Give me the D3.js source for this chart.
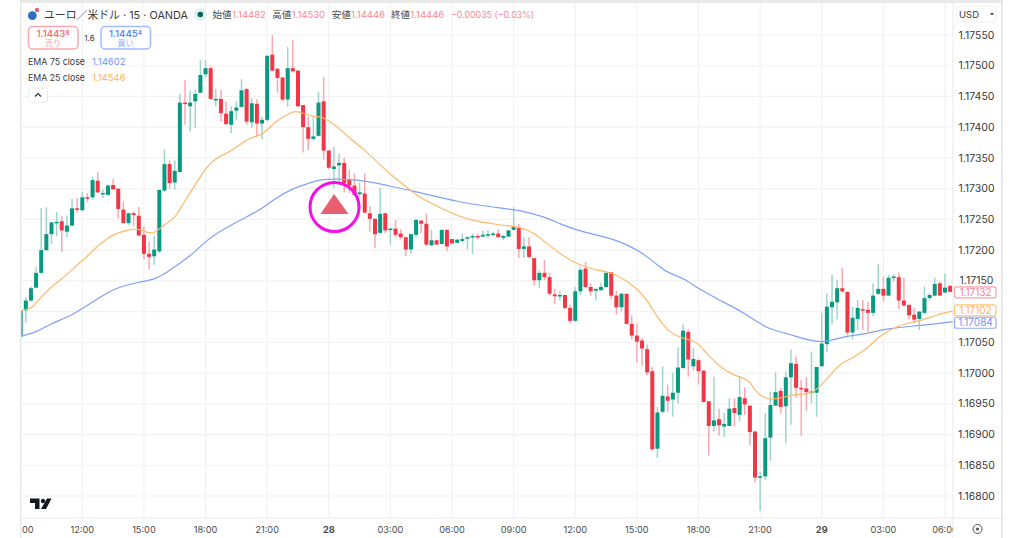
<!DOCTYPE html>
<html>
<head>
<meta charset="utf-8">
<script src="https://cdnjs.cloudflare.com/ajax/libs/d3/7.8.5/d3.min.js"></script>
<style>
  html, body { margin: 0; background: #fff; }
  svg { display: block; font-family: Inter, "Noto Sans CJK JP", sans-serif; }
</style>
</head>
<body>
<svg width="1024" height="538"></svg>
<script>
// 15 minute EUR/USD bars, first bar is 09:00
const opens = [
  1.17059,1.17102,1.17118,1.17139,1.17163,1.17200,1.17226,1.17245,1.17247,1.17230,1.17240,1.17268,1.17265,1.17286,1.17286,1.17313,1.17292,1.17290,1.17306,1.17300,
  1.17266,1.17244,1.17260,1.17256,1.17225,1.17194,1.17190,1.17198,1.17297,1.17340,1.17310,1.17327,1.17440,1.17434,1.17442,1.17456,1.17486,1.17496,1.17446,1.17446,
  1.17422,1.17404,1.17427,1.17433,1.17462,1.17408,1.17438,1.17406,1.17412,1.17518,1.17495,1.17481,1.17445,1.17496,1.17492,1.17436,1.17400,1.17381,1.17386,1.17442,
  1.17362,1.17332,1.17338,1.17342,1.17314,1.17305,1.17291,1.17292,1.17260,1.17251,1.17228,1.17260,1.17235,1.17235,1.17227,1.17221,1.17201,1.17225,1.17248,1.17243,
  1.17208,1.17216,1.17210,1.17233,1.17218,1.17212,1.17215,1.17220,1.17221,1.17223,1.17222,1.17224,1.17225,1.17227,1.17220,1.17222,1.17233,1.17236,1.17202,1.17206,
  1.17187,1.17151,1.17163,1.17156,1.17128,1.17126,1.17127,1.17106,1.17085,1.17133,1.17170,1.17140,1.17134,1.17135,1.17140,1.17164,1.17126,1.17107,1.17129,1.17080,
  1.17061,1.17053,1.17039,1.17003,1.16877,1.16937,1.16962,1.16957,1.16968,1.17008,1.17067,1.17011,1.17021,1.17004,1.16954,1.16914,1.16925,1.16913,1.16914,1.16943,
  1.16932,1.16959,1.16947,1.16905,1.16830,1.16832,1.16895,1.16947,1.16971,1.16946,1.16993,1.17015,1.16976,1.16975,1.16969,1.16968,1.17011,1.17047,1.17107,1.17115,
  1.17138,1.17132,1.17066,1.17088,1.17104,1.17103,1.17098,1.17129,1.17137,1.17126,1.17155,1.17156,1.17118,1.17111,1.17095,1.17088,1.17098,1.17122,1.17126,1.17146,
  1.17131,1.17142
];
const highs = [
  1.17101,1.17123,1.17141,1.17172,1.17268,1.17270,1.17246,1.17262,1.17256,1.17256,1.17283,1.17285,1.17295,1.17293,1.17319,1.17327,1.17299,1.17307,1.17316,1.17300,
  1.17279,1.17261,1.17263,1.17270,1.17239,1.17214,1.17223,1.17298,1.17364,1.17346,1.17346,1.17454,1.17477,1.17460,1.17461,1.17509,1.17509,1.17499,1.17462,1.17461,
  1.17442,1.17434,1.17442,1.17478,1.17464,1.17447,1.17445,1.17417,1.17518,1.17550,1.17496,1.17481,1.17530,1.17542,1.17493,1.17436,1.17417,1.17417,1.17457,1.17482,
  1.17363,1.17368,1.17357,1.17350,1.17331,1.17325,1.17310,1.17325,1.17272,1.17251,1.17301,1.17260,1.17236,1.17249,1.17234,1.17221,1.17226,1.17252,1.17249,1.17260,
  1.17233,1.17217,1.17233,1.17233,1.17218,1.17218,1.17227,1.17222,1.17227,1.17227,1.17232,1.17233,1.17230,1.17233,1.17225,1.17233,1.17270,1.17243,1.17221,1.17221,
  1.17187,1.17167,1.17184,1.17163,1.17137,1.17133,1.17127,1.17111,1.17140,1.17173,1.17181,1.17146,1.17137,1.17146,1.17164,1.17164,1.17134,1.17130,1.17129,1.17094,
  1.17081,1.17057,1.17046,1.17010,1.16945,1.17011,1.16981,1.17000,1.17042,1.17079,1.17071,1.17041,1.17023,1.17004,1.16954,1.16994,1.16942,1.16935,1.16959,1.16959,
  1.16995,1.16977,1.16947,1.16905,1.16840,1.16935,1.16970,1.17001,1.16976,1.17002,1.17038,1.17027,1.16989,1.16994,1.17035,1.17010,1.17098,1.17130,1.17160,1.17152,
  1.17171,1.17133,1.17108,1.17119,1.17119,1.17116,1.17146,1.17178,1.17157,1.17160,1.17161,1.17164,1.17155,1.17111,1.17106,1.17100,1.17141,1.17130,1.17155,1.17149,
  1.17162,1.17142
];
const lows = [
  1.17057,1.17082,1.17116,1.17138,1.17162,1.17199,1.17210,1.17223,1.17197,1.17221,1.17238,1.17261,1.17263,1.17278,1.17282,1.17293,1.17285,1.17289,1.17298,1.17252,
  1.17244,1.17241,1.17239,1.17222,1.17185,1.17169,1.17176,1.17195,1.17294,1.17299,1.17298,1.17327,1.17404,1.17393,1.17399,1.17455,1.17480,1.17445,1.17434,1.17409,
  1.17404,1.17390,1.17412,1.17432,1.17404,1.17399,1.17385,1.17380,1.17409,1.17491,1.17456,1.17442,1.17433,1.17489,1.17433,1.17359,1.17363,1.17378,1.17385,1.17347,
  1.17332,1.17301,1.17312,1.17294,1.17293,1.17288,1.17287,1.17260,1.17230,1.17203,1.17227,1.17228,1.17209,1.17221,1.17218,1.17190,1.17194,1.17221,1.17228,1.17207,
  1.17206,1.17209,1.17209,1.17198,1.17210,1.17211,1.17212,1.17201,1.17194,1.17217,1.17221,1.17220,1.17223,1.17220,1.17216,1.17221,1.17232,1.17187,1.17187,1.17187,
  1.17142,1.17138,1.17151,1.17126,1.17112,1.17118,1.17104,1.17081,1.17083,1.17127,1.17138,1.17126,1.17118,1.17134,1.17139,1.17120,1.17095,1.17100,1.17079,1.17054,
  1.17017,1.17012,1.16996,1.16874,1.16862,1.16934,1.16937,1.16929,1.16950,1.17008,1.16994,1.17004,1.16981,1.16952,1.16866,1.16905,1.16898,1.16896,1.16914,1.16913,
  1.16921,1.16932,1.16882,1.16822,1.16776,1.16826,1.16857,1.16946,1.16935,1.16886,1.16916,1.16960,1.16898,1.16939,1.16951,1.16929,1.17011,1.17034,1.17079,1.17087,
  1.17131,1.17061,1.17055,1.17070,1.17070,1.17067,1.17093,1.17127,1.17116,1.17125,1.17149,1.17104,1.17108,1.17087,1.17081,1.17070,1.17096,1.17118,1.17125,1.17126,
  1.17130,1.17132
];
const closes = [
  1.17101,1.17118,1.17138,1.17163,1.17200,1.17226,1.17245,1.17246,1.17232,1.17240,1.17268,1.17267,1.17286,1.17285,1.17314,1.17294,1.17293,1.17305,1.17299,1.17267,
  1.17244,1.17260,1.17257,1.17224,1.17194,1.17189,1.17201,1.17298,1.17340,1.17309,1.17329,1.17440,1.17439,1.17440,1.17454,1.17485,1.17496,1.17446,1.17446,1.17423,
  1.17405,1.17426,1.17432,1.17460,1.17409,1.17439,1.17406,1.17412,1.17516,1.17492,1.17480,1.17445,1.17496,1.17491,1.17434,1.17400,1.17381,1.17385,1.17440,1.17362,
  1.17334,1.17336,1.17342,1.17309,1.17305,1.17290,1.17294,1.17261,1.17251,1.17226,1.17259,1.17232,1.17235,1.17225,1.17221,1.17201,1.17226,1.17249,1.17243,1.17209,
  1.17216,1.17209,1.17233,1.17206,1.17211,1.17217,1.17218,1.17221,1.17223,1.17222,1.17225,1.17226,1.17227,1.17221,1.17223,1.17232,1.17238,1.17202,1.17206,1.17189,
  1.17151,1.17163,1.17156,1.17129,1.17125,1.17127,1.17106,1.17085,1.17133,1.17168,1.17140,1.17133,1.17137,1.17140,1.17163,1.17126,1.17107,1.17129,1.17080,1.17061,
  1.17051,1.17040,1.17001,1.16876,1.16936,1.16963,1.16955,1.16968,1.17009,1.17069,1.17022,1.17023,1.17003,1.16953,1.16914,1.16923,1.16915,1.16917,1.16942,1.16935,
  1.16961,1.16949,1.16904,1.16830,1.16832,1.16894,1.16948,1.16969,1.16945,1.16993,1.17016,1.16976,1.16975,1.16969,1.16970,1.17010,1.17048,1.17108,1.17116,1.17138,
  1.17133,1.17066,1.17090,1.17106,1.17103,1.17098,1.17126,1.17137,1.17126,1.17155,1.17157,1.17118,1.17110,1.17094,1.17087,1.17100,1.17122,1.17127,1.17145,1.17126,
  1.17139,1.17132
];

// EMA values read at these bars
const ema25Bars = [0,2,3,5,7,9,11,13,15,17,19,21,23,24,26,27,30,31,33,36,38,41,43,45,47,49,50,53,54,56,58,59,62,64,67,69,72,76,78,82,85,88,92,95,97,100,102,105,108,109,112,115,117,120,122,124,126,128,131,132,134,137,139,142,143,145,147,150,152,154,156,158,160,162,165,167,171,175,178,182];
const ema25 = [1.17102,1.17104,1.17114,1.17133,1.17147,1.17160,1.17176,1.17190,1.17207,1.17220,1.17229,1.17233,1.17235,1.17230,1.17226,1.17236,1.17251,1.17267,1.17293,1.17334,1.17350,1.17361,1.17374,1.17384,1.17387,1.17404,1.17411,1.17426,1.17426,1.17419,1.17417,1.17416,1.17399,1.17382,1.17363,1.17347,1.17323,1.17297,1.17284,1.17268,1.17256,1.17248,1.17243,1.17239,1.17238,1.17228,1.17214,1.17194,1.17179,1.17176,1.17167,1.17164,1.17155,1.17138,1.17119,1.17090,1.17069,1.17058,1.17053,1.17048,1.17027,1.17005,1.16996,1.16989,1.16970,1.16958,1.16957,1.16964,1.16966,1.16966,1.16981,1.17000,1.17018,1.17024,1.17041,1.17059,1.17079,1.17084,1.17094,1.17102];
const ema75Bars = [0,3,6,10,13,16,19,23,26,28,30,33,36,38,43,47,49,53,56,58,62,64,67,72,76,80,85,90,96,99,102,105,108,112,115,118,121,124,126,129,132,136,141,145,149,152,155,157,160,165,169,175,182];
const ema75 = [1.17060,1.17066,1.17081,1.17094,1.17110,1.17127,1.17140,1.17148,1.17152,1.17161,1.17173,1.17190,1.17214,1.17227,1.17250,1.17267,1.17281,1.17301,1.17308,1.17315,1.17316,1.17315,1.17313,1.17304,1.17297,1.17289,1.17279,1.17272,1.17266,1.17261,1.17254,1.17243,1.17233,1.17225,1.17219,1.17209,1.17196,1.17176,1.17163,1.17155,1.17137,1.17119,1.17098,1.17073,1.17065,1.17057,1.17051,1.17051,1.17059,1.17064,1.17073,1.17077,1.17084];

const priceTicks = [1.1755,1.175,1.1745,1.174,1.1735,1.173,1.1725,1.172,1.1715,1.171,1.1705,1.17,1.1695,1.169,1.1685,1.168];
// 1.17100 sits under the orange tag, so it gets a grid line but no text
const priceLabels = priceTicks.filter(d => d !== 1.171);
const timeTickBars = [0,12,24,36,48,60,72,84,96,108,120,132,144,156,168,180];
const timeTickLabels = ["09:00","12:00","15:00","18:00","21:00","28","03:00","06:00","09:00","12:00","15:00","18:00","21:00","29","03:00","06:00"];
const lastLabels = [
  {text:"1.17132", value:1.17132, nudge:0.5, stroke:"#f7a3aa", color:"#f7838d"},
  {text:"1.17102", value:1.17102, nudge:0, stroke:"#ffc67a", color:"#ffb454"},
  {text:"1.17084", value:1.17084, nudge:1.3, stroke:"#92aefb", color:"#6f94f7"}
];
const headerItems = [
  ["始値",212.5,"1.14482",232.3],["高値",272.3,"1.14530",291.7],["安値",331.7,"1.14446",351],["終値",391,"1.14446",410.3]
];

const plotL = 21, plotR = 953, plotT = 3, plotB = 518;
const up = "#089981", down = "#f23645";

const svg = d3.select("svg");
const x = d3.scaleLinear().domain([12,180]).range([82.3,945]);
const y = d3.scaleLinear().domain([1.168,1.1755]).range([496,35]);

const defs = svg.append("defs");
defs.append("clipPath").attr("id","plot").append("rect")
  .attr("x",plotL).attr("y",plotT).attr("width",plotR-plotL).attr("height",plotB-plotT);
defs.append("clipPath").attr("id","times").append("rect")
  .attr("x",plotL+1).attr("y",plotB).attr("width",plotR-plotL-1).attr("height",20);

// grid
svg.append("g").selectAll("line").data(priceTicks).join("line")
  .attr("x1",plotL).attr("x2",plotR).attr("y1",d=>y(d)).attr("y2",d=>y(d))
  .attr("stroke","#f2f2f3").attr("stroke-width",1.2);
svg.append("g").selectAll("line").data(timeTickBars).join("line")
  .attr("x1",d=>x(d)).attr("x2",d=>x(d)).attr("y1",plotT).attr("y2",plotB)
  .attr("stroke","#f2f2f3").attr("stroke-width",1.2);

// candles
const plot = svg.append("g").attr("clip-path","url(#plot)");
const candles = plot.selectAll("g").data(d3.range(opens.length)).join("g");
candles.append("line")
  .attr("x1",i=>x(i)).attr("x2",i=>x(i))
  .attr("y1",i=>y(highs[i])).attr("y2",i=>y(lows[i]))
  .attr("stroke",i=>closes[i]>=opens[i]?"#9ed6cb":"#fba9b0")
  .attr("stroke-width",1.5);
candles.append("rect")
  .attr("x",i=>x(i)-2).attr("width",4)
  .attr("y",i=>y(Math.max(opens[i],closes[i])))
  .attr("height",i=>Math.max(1.5,Math.abs(y(opens[i])-y(closes[i]))))
  .attr("fill",i=>closes[i]>=opens[i]?up:down);

// ema lines
const emaLine = (bars,vals) => d3.line().x((d,i)=>x(bars[i])).y(d=>y(d)).curve(d3.curveBasis)(vals);
plot.append("path").attr("d",emaLine(ema75Bars,ema75)).attr("fill","none").attr("stroke","#7fa2f7").attr("stroke-width",1.2);
plot.append("path").attr("d",emaLine(ema25Bars,ema25)).attr("fill","none").attr("stroke","#fdb868").attr("stroke-width",1.2);

// frame and axes
const frame = "#e9e9ea";
svg.append("rect").attr("x",20).attr("y",0).attr("width",1.5).attr("height",538).attr("fill",frame);
svg.append("rect").attr("x",20).attr("y",0).attr("width",983).attr("height",3).attr("fill",frame);
svg.append("rect").attr("x",1001).attr("y",0).attr("width",2).attr("height",538).attr("fill",frame);
svg.append("line").attr("x1",plotL).attr("x2",1001).attr("y1",plotB).attr("y2",plotB).attr("stroke",frame);
svg.append("line").attr("x1",plotR).attr("x2",plotR).attr("y1",plotT).attr("y2",538).attr("stroke",frame);

// price axis
svg.append("g").selectAll("text").data(priceLabels).join("text")
  .attr("x",976.5).attr("y",d=>y(d)+3.6).attr("text-anchor","middle")
  .attr("font-size",10.5).attr("fill","#3a3a3c").text(d=>d.toFixed(5));

// time axis
svg.append("g").attr("clip-path","url(#times)").selectAll("text").data(timeTickBars).join("text")
  .attr("x",d=>x(d)).attr("y",532.5).attr("text-anchor","middle")
  .attr("font-size",9.2).attr("fill","#4a4a4d")
  .attr("font-weight",(d,i)=>timeTickLabels[i].length==2?700:400)
  .text((d,i)=>timeTickLabels[i]);

// last value labels
const tags = svg.append("g").selectAll("g").data(lastLabels).join("g");
tags.append("rect").attr("x",954.5).attr("width",41.5).attr("height",11)
  .attr("y",d=>y(d.value)+d.nudge-5.5).attr("rx",2)
  .attr("fill","#fff").attr("stroke",d=>d.stroke).attr("stroke-width",1.2);
tags.append("text").attr("x",975.5).attr("y",d=>y(d.value)+d.nudge+3.5).attr("text-anchor","middle")
  .attr("font-size",10).attr("fill",d=>d.color).text(d=>d.text);

// sell signal
svg.append("circle").attr("cx",334.5).attr("cy",207).attr("r",24.5)
  .attr("fill","none").attr("stroke","#f60ee8").attr("stroke-width",3);
svg.append("path").attr("d","M334 194L348.5 214L320.5 214Z").attr("fill","#e8606f");

// header
svg.append("circle").attr("cx",32.3).attr("cy",15.7).attr("r",4.4).attr("fill","#2f6fc0");
svg.append("circle").attr("cx",37).attr("cy",10).attr("r",2.2).attr("fill","#e8606f");
svg.append("text").attr("x",44).attr("y",18.5).attr("font-size",11).attr("fill","#3a3a3c")
  .attr("textLength",144).attr("lengthAdjust","spacingAndGlyphs")
  .text("ユーロ／米ドル · 15 · OANDA");
svg.append("circle").attr("cx",200.3).attr("cy",14.5).attr("r",6.5).attr("fill","#e3f2ef");
svg.append("circle").attr("cx",200.3).attr("cy",14.5).attr("r",2.8).attr("fill","#056656");
const head = svg.append("g").attr("font-size",9.5);
headerItems.forEach(h => {
  head.append("text").attr("x",h[1]).attr("y",18).attr("fill","#4a4a4d").text(h[0]);
  head.append("text").attr("x",h[3]).attr("y",18).attr("fill","#fb8591").text(h[2]);
});
head.append("text").attr("x",451).attr("y",18).attr("fill","#fb8591")
  .attr("textLength",83).attr("lengthAdjust","spacingAndGlyphs").text("−0.00035 (−0.03%)");

// buy / sell buttons
const sellBlue = [
  {x:28.5, stroke:"#f9a8af", main:"#f4717c", sub:"#f9a0a8", price:"1.1443", tail:"8", label:"売り"},
  {x:101, stroke:"#a4bcfd", main:"#5f8af5", sub:"#8fadfa", price:"1.1445", tail:"4", label:"買い"}
];
const btn = svg.append("g").selectAll("g").data(sellBlue).join("g");
btn.append("rect").attr("x",d=>d.x).attr("y",26.5).attr("width",49.5).attr("height",22.5).attr("rx",4)
  .attr("fill","#fff").attr("stroke",d=>d.stroke).attr("stroke-width",1.5);
const priceText = btn.append("text").attr("x",d=>d.x+24.5).attr("y",36.5).attr("text-anchor","middle")
  .attr("font-size",9.5).attr("font-weight",600).attr("fill",d=>d.main);
priceText.append("tspan").text(d=>d.price);
priceText.append("tspan").attr("font-size",6.5).attr("dy",-2).text(d=>d.tail);
btn.append("text").attr("x",d=>d.x+24.5).attr("y",46).attr("text-anchor","middle")
  .attr("font-size",8).attr("fill",d=>d.sub).text(d=>d.label);
svg.append("text").attr("x",89.5).attr("y",40.5).attr("text-anchor","middle")
  .attr("font-size",8).attr("fill","#3a3a3c").text("1.6");

// legend
svg.append("text").attr("x",28).attr("y",64.5).attr("font-size",9.5).attr("fill","#3a3a3c")
  .attr("textLength",57).attr("lengthAdjust","spacingAndGlyphs").text("EMA 75 close");
svg.append("text").attr("x",92).attr("y",64.5).attr("font-size",9.5).attr("fill","#6f94f7").text("1.14602");
svg.append("text").attr("x",28).attr("y",81).attr("font-size",9.5).attr("fill","#3a3a3c")
  .attr("textLength",57).attr("lengthAdjust","spacingAndGlyphs").text("EMA 25 close");
svg.append("text").attr("x",92).attr("y",81).attr("font-size",9.5).attr("fill","#ffb454").text("1.14546");
svg.append("rect").attr("x",28.5).attr("y",88).attr("width",19).attr("height",14).attr("rx",2)
  .attr("fill","#fff").attr("stroke","#ececec");
svg.append("path").attr("d","M35 96.5L38 93.5L41 96.5").attr("fill","none").attr("stroke","#333").attr("stroke-width",1.2);

// currency menu
svg.append("rect").attr("x",956.5).attr("y",6).attr("width",40).attr("height",16).attr("rx",3)
  .attr("fill","#fff").attr("stroke","#f0f0f0");
svg.append("text").attr("x",959).attr("y",18).attr("font-size",9.5).attr("fill","#3a3a3c").text("USD");
svg.append("path").attr("d","M990 13L994 13L992 15.5Z").attr("fill","#444");

// logo and settings
svg.append("path").attr("d","M30 498.5H39.5V509H35V503H30ZM47 498.5H51.5L46 509H41Z").attr("fill","#131722");
svg.append("circle").attr("cx",43).attr("cy",501).attr("r",2.2).attr("fill","#131722");
svg.append("circle").attr("cx",977.5).attr("cy",529).attr("r",4.5).attr("fill","none").attr("stroke","#555").attr("stroke-width",1);
svg.append("circle").attr("cx",977.5).attr("cy",529).attr("r",1.6).attr("fill","#555");
</script>
</body>
</html>
